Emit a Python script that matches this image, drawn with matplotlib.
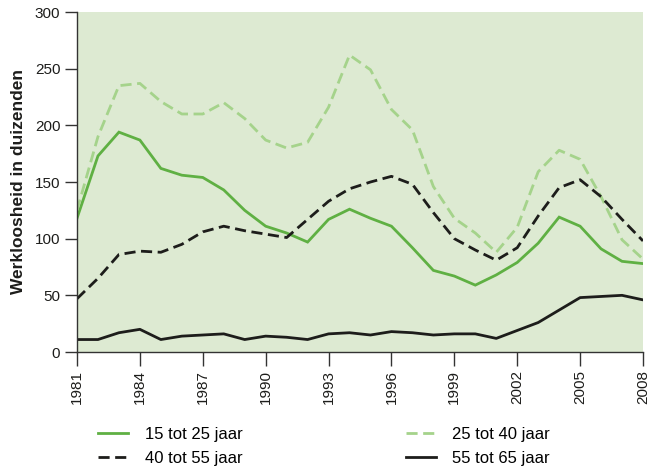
import matplotlib
matplotlib.use("Agg")
import matplotlib.pyplot as plt
from matplotlib.lines import Line2D

plt.rcParams['font.family'] = ['Liberation Sans', 'DejaVu Sans']

years = list(range(1981, 2009))
age_15_25 = [118, 173, 194, 187, 162, 156, 154, 143, 125, 111, 105, 97, 117, 126,
             118, 111, 92, 72, 67, 59, 68, 79, 96, 119, 111, 91, 80, 78]
age_25_40 = [125, 190, 235, 237, 221, 210, 210, 220, 206, 187, 180, 185, 216, 262,
             249, 214, 196, 146, 118, 105, 88, 110, 159, 178, 170, 137, 99, 82]
age_40_55 = [47, 65, 86, 89, 88, 95, 106, 111, 107, 104, 101, 117, 133, 144,
             150, 155, 148, 123, 100, 90, 81, 92, 120, 145, 152, 137, 117, 98]
age_55_65 = [11, 11, 17, 20, 11, 14, 15, 16, 11, 14, 13, 11, 16, 17,
             15, 18, 17, 15, 16, 16, 12, 19, 26, 37, 48, 49, 50, 46]
labels = ["15 tot 25 jaar", "25 tot 40 jaar", "40 tot 55 jaar", "55 tot 65 jaar"]
xticks = list(range(1981, 2009, 3))
yticks = [0, 50, 100, 150, 200, 250, 300]

green = "#5fb043"
lightgreen = "#a5d38b"
black = "#1d1d1b"
bg = "#ddead2"
lw = 2.0

fig = plt.figure(figsize=(6.6, 4.68), dpi=100)
ax = fig.add_axes([77/660, 1-352/468, 566/660, 340/468])
ax.set_facecolor(bg)

l1, = ax.plot(years, age_15_25, color=green, lw=lw, solid_joinstyle='miter')
l2, = ax.plot(years, age_25_40, color=lightgreen, lw=lw, dashes=(4, 2))
l3, = ax.plot(years, age_40_55, color=black, lw=lw, dashes=(4, 2))
l4, = ax.plot(years, age_55_65, color=black, lw=lw)

ax.set_xlim(1981, 2008)
ax.set_ylim(0, 300)
ax.set_xticks(xticks)
ax.set_xticklabels([str(y) for y in xticks], rotation=90, fontsize=11, color="#1d1d1b")
ax.set_yticks(yticks)
ax.set_yticklabels([str(v) for v in yticks], fontsize=11, color="#1d1d1b")
ax.tick_params(axis='x', length=10, width=1.0, color="#333333", pad=3)
ax.tick_params(axis='y', length=9, width=1.0, color="#333333", pad=3)
for s in ['top', 'right']:
    ax.spines[s].set_visible(False)
for s in ['left', 'bottom']:
    ax.spines[s].set_linewidth(1.0)
    ax.spines[s].set_color("#333333")

ax.set_ylabel("Werkloosheid in duizenden", fontsize=12.5, fontweight='bold',
              color="#1d1d1b", labelpad=6)

h1 = Line2D([], [], color=green, lw=lw)
h2 = Line2D([], [], color=lightgreen, lw=lw, dashes=(4, 2))
h3 = Line2D([], [], color=black, lw=lw, dashes=(4, 2))
h4 = Line2D([], [], color=black, lw=lw)
fig.legend([h1, h3, h2, h4], [labels[0], labels[2], labels[1], labels[3]],
           ncol=2, loc='upper left', bbox_to_anchor=(98/660, 1-427/468),
           frameon=False, fontsize=12, handlelength=1.8, handletextpad=1.0,
           columnspacing=9.8, labelspacing=0.55, borderaxespad=0, borderpad=0)

fig.savefig("out.png", dpi=100)
